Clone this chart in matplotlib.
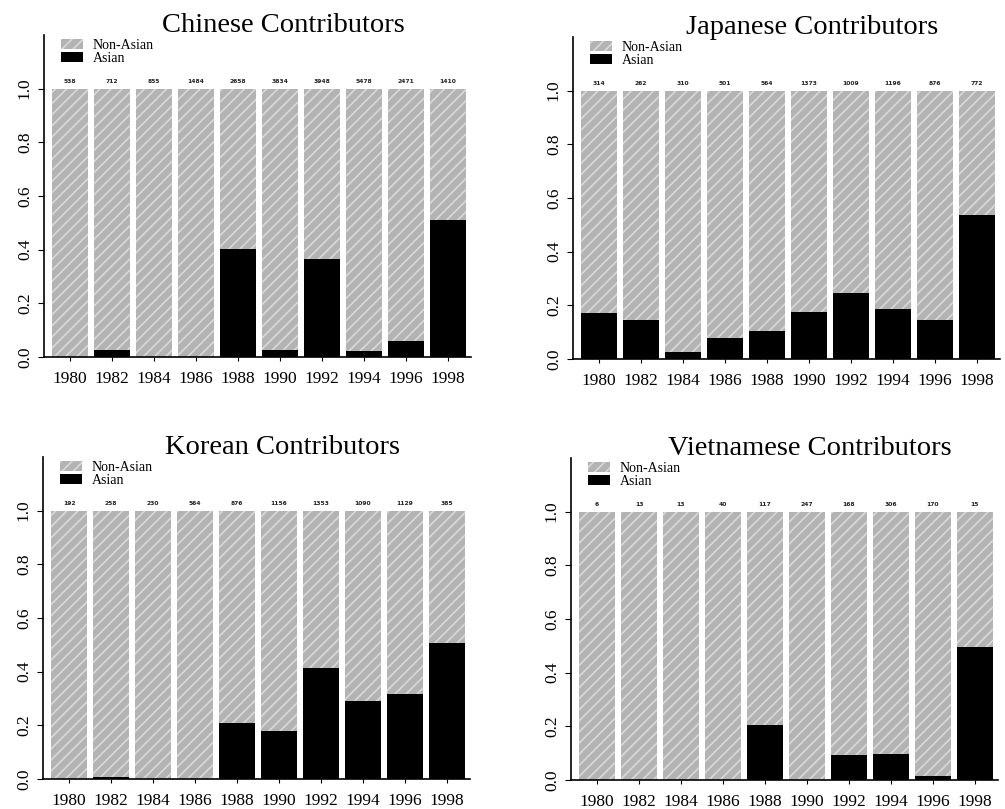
import matplotlib.pyplot as plt
from matplotlib.patches import Patch

years = ["1980", "1982", "1984", "1986", "1988", "1990", "1992", "1994", "1996", "1998"]

chinese_asian = [0.0, 0.025, 0.0, 0.0, 0.404, 0.025, 0.367, 0.024, 0.06, 0.511]
chinese_n = [538, 712, 855, 1484, 2658, 3834, 3948, 5478, 2471, 1410]

japanese_asian = [0.171, 0.146, 0.025, 0.078, 0.106, 0.175, 0.246, 0.188, 0.146, 0.535]
japanese_n = [314, 262, 310, 501, 564, 1373, 1009, 1196, 876, 772]

korean_asian = [0.0, 0.009, 0.0, 0.0, 0.207, 0.178, 0.414, 0.291, 0.316, 0.508]
korean_n = [192, 258, 230, 564, 876, 1156, 1353, 1090, 1129, 385]

vietnamese_asian = [0.0, 0.0, 0.0, 0.0, 0.205, 0.0, 0.094, 0.096, 0.015, 0.496]
vietnamese_n = [6, 13, 13, 40, 117, 247, 168, 306, 170, 15]

panels = [
    ("Chinese Contributors", chinese_asian, chinese_n, [44, 35]),
    ("Japanese Contributors", japanese_asian, japanese_n, [573, 37]),
    ("Korean Contributors", korean_asian, korean_n, [43, 457]),
    ("Vietnamese Contributors", vietnamese_asian, vietnamese_n, [571, 458]),
]

W, H = 1005, 809
serif = ["Liberation Serif", "DejaVu Serif"]
gray = "#b3b3b3"
hatch_col = "#d9d9d9"
plt.rcParams["hatch.linewidth"] = 1.2

fig = plt.figure(figsize=(W / 100, H / 100), dpi=100)

for title, asian, counts, (px, py) in panels:
    aw, ah = 427, 322
    ax = fig.add_axes([px / W, 1 - (py + ah) / H, aw / W, ah / H])
    x = list(range(len(years)))
    non_asian = [1 - a for a in asian]
    ax.bar(x, asian, width=0.855, color="black", linewidth=0)
    ax.bar(x, non_asian, bottom=asian, width=0.855, facecolor=gray,
           edgecolor=hatch_col, hatch="///", linewidth=0)
    for xi, n in zip(x, counts):
        ax.text(xi, 1.018, str(n), ha="center", va="bottom", fontsize=4.3,
                fontweight="bold", color="#222222")
    ax.set_xlim(-0.62, 9.55)
    ax.set_ylim(0, 1.2)
    ax.set_yticks([0, 0.2, 0.4, 0.6, 0.8, 1.0])
    ax.set_yticklabels(["0.0", "0.2", "0.4", "0.6", "0.8", "1.0"],
                       rotation=90, va="center", family=serif, fontsize=12.5)
    ax.set_xticks(x)
    ax.set_xticklabels(years, family=serif, fontsize=12.5)
    ax.tick_params(axis="x", length=3, pad=7)
    ax.tick_params(axis="y", length=4, pad=4)
    for s in ["top", "right"]:
        ax.spines[s].set_visible(False)
    ax.spines["left"].set_linewidth(1.2)
    ax.spines["bottom"].set_linewidth(1.2)
    ax.text(0.56, 1.03, title, transform=ax.transAxes, ha="center",
            va="center", family=serif, fontsize=20.5)
    handles = [Patch(facecolor=gray, edgecolor=hatch_col, hatch="///", linewidth=0),
               Patch(facecolor="black", linewidth=0)]
    ax.legend(handles, ["Non-Asian", "Asian"], loc="upper left",
              bbox_to_anchor=(0.03, 1.0), frameon=False,
              prop={"family": serif, "size": 10}, handlelength=1.6,
              handleheight=0.75, labelspacing=0.0, handletextpad=0.7,
              borderaxespad=0.1, borderpad=0.2)

fig.savefig("out.png", dpi=100)
